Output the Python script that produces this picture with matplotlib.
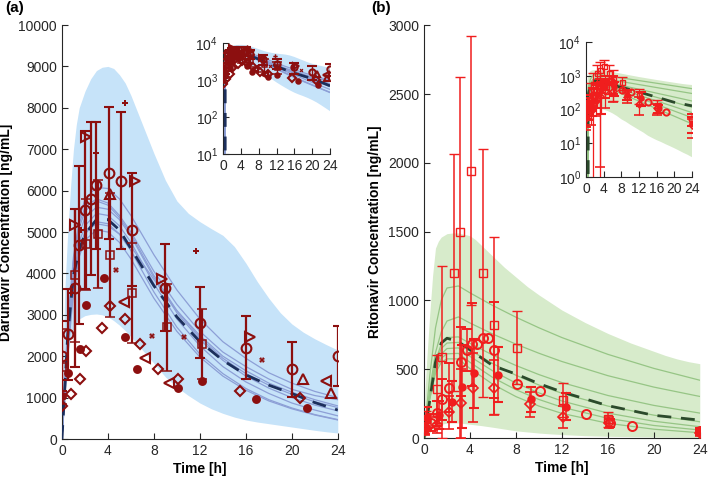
"""
Darunavir / ritonavir concentration-time profiles, observed vs model
"""

import numpy as np
import matplotlib
matplotlib.use("Agg")
import matplotlib.pyplot as plt

plt.rcParams['font.family'] = ['Liberation Sans', 'DejaVu Sans']

# ---------------- panel (a): darunavir ----------------
band_t = [0, 0.1, 0.25, 0.5, 0.75, 1, 1.25, 1.5, 2, 2.5, 3, 3.5, 4, 4.5, 5, 5.5, 6, 7, 8, 9,
          10, 11, 12, 13, 14, 15, 16, 17, 18, 19, 20, 21, 22, 23, 24]
drv_upper = [0, 2100, 3600, 5000, 6100, 7000, 7600, 8000, 8400, 8700, 8900, 8980, 9000, 8950,
             8800, 8600, 8300, 7600, 6900, 6250, 5750, 5450, 5250, 5080, 4920, 4650, 4250,
             3800, 3400, 3050, 2780, 2580, 2420, 2280, 2150]
drv_lower = [0, 800, 1330, 2050, 2450, 2650, 2800, 2900, 2980, 3010, 3020, 3000, 2950, 2860,
             2750, 2620, 2470, 2150, 1830, 1500, 1250, 1050, 870, 730, 620, 530, 460, 410,
             370, 330, 290, 250, 210, 175, 145]

drv_model_t = [0, 0.5, 1, 1.5, 2, 3, 4, 5, 6, 8, 10, 12, 14, 16, 18, 20, 22, 24]
drv_typical = [0, 2500, 3950, 4570, 4950, 5300, 5300, 5050, 4600, 3700, 2950, 2350, 1900,
               1550, 1300, 1100, 880, 700]
drv_ind_1 = [0, 2600, 4300, 5300, 5800, 6080, 6050, 5800, 5400, 4450, 3600, 2900, 2350, 1950, 1600, 1350, 1150, 1000]
drv_ind_2 = [0, 2800, 4400, 5200, 5600, 5800, 5700, 5400, 5000, 4050, 3250, 2600, 2100, 1750, 1450, 1200, 1050, 950]
drv_ind_3 = [0, 2500, 4100, 4950, 5350, 5600, 5550, 5300, 4900, 3900, 3050, 2400, 1900, 1520, 1230, 1000, 820, 680]
drv_ind_4 = [0, 2300, 3900, 4750, 5150, 5450, 5400, 5150, 4750, 3750, 2900, 2250, 1750, 1380, 1100, 870, 700, 560]
drv_ind_5 = [0, 2100, 3700, 4550, 4950, 5250, 5200, 4950, 4550, 3550, 2700, 2050, 1580, 1220, 950, 750, 590, 470]
drv_ind_6 = [0, 2000, 3550, 4400, 4800, 5050, 5000, 4750, 4350, 3400, 2600, 1980, 1520, 1180, 920, 730, 580, 460]
drv_ind_7 = [0, 2200, 3800, 4600, 5000, 5200, 5150, 4950, 4650, 3850, 3100, 2500, 2000, 1650, 1350, 1130, 950, 800]
drv_ind_8 = [0, 2700, 4250, 5100, 5500, 5750, 5650, 5350, 4950, 3950, 3100, 2450, 1950, 1580, 1300, 1080, 900, 760]

# observed darunavir, one list per study
drv_circ_t = [0, 0.55, 1.1, 1.5, 2.0, 2.5, 3.0, 4.1, 5.1, 6.1, 9.0, 12.0, 16.0, 20.0, 24.0]
drv_circ_c = [2000, 2530, 3650, 4690, 5530, 5800, 6130, 6420, 6240, 5060, 3650, 2810, 2210, 1680, 2000]
drv_circ_sd = [850, 1100, 1900, 1900, 1900, 1850, 1530, 1600, 1650, 1360, 1050, 850, 770, 670, 730]

drv_sq_t = [0, 1.1, 2.1, 3.1, 4.2, 6.1, 9.1, 12.2]
drv_sq_c = [1750, 3950, 4700, 4950, 4450, 3530, 2700, 2300]
drv_sq_sd = [900, 1600, 1100, 1300, 1500, 1200, 1050, 850]

drv_right_t = [1.1, 2.1, 6.35, 8.7, 16.4]
drv_right_c = [5170, 7290, 6240, 3870, 2470]
drv_left_t = [5.4, 7.2, 9.35, 23.0]
drv_left_c = [3320, 1960, 1360, 1390]
drv_up_t = [4.17, 21.0, 23.4]
drv_up_c = [5920, 1460, 1120]
drv_dia_t = [0.03, 0.78, 1.57, 2.09, 3.45, 4.17, 5.48, 6.78, 8.32, 10.1, 15.5, 20.75]
drv_dia_c = [800, 1080, 1460, 2130, 2670, 3210, 2900, 2290, 1680, 1440, 1160, 1000]
drv_dot_t = [0.03, 0.55, 1.57, 2.09, 3.68, 5.48, 6.49, 10.1, 12.2, 16.9, 21.3]
drv_dot_c = [1050, 1590, 2170, 3240, 3880, 2470, 1680, 1240, 1400, 970, 740]
drv_plus_t = [0.78, 1.65, 2.93, 5.48, 11.7]
drv_plus_c = [3520, 5050, 6920, 8110, 4550]
drv_x_t = [4.67, 7.8, 10.6, 17.4]
drv_x_c = [4080, 2490, 2470, 1910]

# ---------------- panel (b): ritonavir ----------------
rtv_upper = [0, 350, 580, 900, 1180, 1380, 1430, 1460, 1485, 1490, 1490, 1480, 1470, 1440,
             1400, 1360, 1320, 1240, 1170, 1100, 1040, 985, 930, 885, 840, 800, 760, 725,
             690, 660, 630, 600, 575, 555, 540]
rtv_lower = [0, 8, 20, 40, 60, 80, 90, 100, 108, 110, 110, 105, 100, 95, 90, 84, 78, 65, 52,
             44, 36, 30, 25, 21, 17, 14.5, 12.5, 11, 9.5, 8.3, 7.2, 6.2, 5.3, 4.6, 3.9]

rtv_model_t = [0, 0.5, 1, 1.5, 2, 3, 4, 6, 8, 10, 12, 16, 20, 24]
rtv_typical = [0, 270, 550, 690, 725, 700, 640, 525, 465, 395, 335, 235, 165, 130]
rtv_ind_1 = [0, 450, 800, 1000, 1090, 1105, 1055, 962, 878, 801, 730, 608, 506, 420]
rtv_ind_2 = [0, 350, 620, 770, 850, 880, 836, 755, 682, 616, 556, 453, 370, 302]
rtv_ind_3 = [0, 330, 560, 680, 730, 735, 688, 602, 527, 461, 403, 309, 237, 181]
rtv_ind_4 = [0, 320, 540, 650, 690, 695, 639, 540, 456, 385, 325, 232, 166, 118]
rtv_ind_5 = [0, 300, 510, 610, 650, 655, 593, 487, 399, 328, 269, 181, 122, 82]
rtv_ind_6 = [0, 290, 490, 580, 612, 615, 550, 439, 351, 280, 224, 143, 91, 58]
rtv_ind_7 = [0, 280, 470, 550, 575, 575, 505, 390, 301, 232, 179, 107, 64, 38]

rtv_sq_t = [0.2, 1.1, 1.6, 2.6, 3.1, 4.1, 5.1, 6.1, 8.1, 12.1, 16.0]
rtv_sq_c = [135, 356, 591, 1201, 1494, 1940, 1201, 818, 656, 276, 136]
rtv_sq_lo = [80, 250, 591, 860, 1494, 975, 900, 640, 266, 126, 55]
rtv_sq_hi = [60, 250, 660, 860, 1130, 980, 900, 640, 266, 126, 55]

rtv_circ_t = [0.1, 0.6, 1.1, 1.6, 2.2, 3.2, 3.7, 4.2, 4.6, 5.1, 5.6, 6.1, 8.1, 10.1, 14.1, 16.2, 18.1, 24.0]
rtv_circ_c = [70, 111, 179, 281, 366, 554, 639, 680, 680, 729, 729, 639, 392, 341, 172, 111, 87, 53]
rtv_circ_sd = [40, 60, 90, 150, 180, 250, 150, 300, np.nan, np.nan, np.nan, 350, np.nan, np.nan,
               np.nan, 30, np.nan, 20]

rtv_dia_t = [0.1, 1.1, 2.2, 3.2, 4.3, 6.1, 9.2, 12.1, 16.1, 24.0]
rtv_dia_c = [55, 94, 187, 252, 366, 366, 245, 150, 111, 34]
rtv_dia_sd = [30, 60, 120, 250, 250, 200, 90, 80, 40, 20]

rtv_dot_t = [0.25, 1.3, 2.4, 3.3, 4.35, 6.4, 9.35, 12.35, 24.0]
rtv_dot_c = [143, 167, 264, 373, 470, 458, 281, 228, 40]
rtv_dot_sd = [80, 100, 150, 300, 250, 200, 90, 100, 20]

DARK_RED = '#8c0f0f'
RED = '#f01e1e'


def style_axis(ax, labelsize=10):
    """matlab-ish look: left/bottom spines, ticks pointing in"""
    for side in ['top', 'right']:
        ax.spines[side].set_visible(False)
    for side in ['left', 'bottom']:
        ax.spines[side].set_color('#262626')
        ax.spines[side].set_linewidth(0.8)
    ax.tick_params(direction='in', length=4, width=0.8, labelsize=labelsize, colors='#262626')
    ax.tick_params(which='minor', left=False, bottom=False)


def points(ax, t, c, marker, color, ms, err=None, filled=False, mew=1.5, elw=1.5, capcolor=None):
    face = color if filled else 'none'
    line, caps, bars = ax.errorbar(t, c, yerr=err, fmt=marker, color=color, ecolor=color,
                                   mfc=face, mec=color, ms=ms, mew=mew, elinewidth=elw,
                                   capsize=3.5, capthick=0.7, zorder=5)
    if capcolor is not None:
        for cap in caps:
            cap.set_color(capcolor)


def draw_darunavir(ax, small=False):
    ms = 4.5 if small else 7
    elw = 1.0 if small else 1.6
    cap = '#a08a8a'
    ax.fill_between(band_t, drv_lower, drv_upper, color='#c6e3f9', lw=0, zorder=1)
    for curve in [drv_ind_1, drv_ind_2, drv_ind_3, drv_ind_4, drv_ind_5, drv_ind_6, drv_ind_7, drv_ind_8]:
        ax.plot(drv_model_t, curve, color='#8d9fd6', lw=0.9, zorder=2)
    ax.plot(drv_model_t, drv_typical, color='#1c2f5c', lw=2, dashes=(5, 3.5), zorder=3)

    points(ax, drv_circ_t, drv_circ_c, 'o', DARK_RED, ms, err=drv_circ_sd, elw=elw, capcolor=cap)
    points(ax, drv_sq_t, drv_sq_c, 's', DARK_RED, ms * 0.8, err=drv_sq_sd, mew=1.1, elw=elw, capcolor=cap)
    points(ax, drv_right_t, drv_right_c, '>', DARK_RED, ms)
    points(ax, drv_left_t, drv_left_c, '<', DARK_RED, ms)
    points(ax, drv_up_t, drv_up_c, '^', DARK_RED, ms)
    points(ax, drv_dia_t, drv_dia_c, 'D', DARK_RED, ms * 0.8)
    points(ax, drv_dot_t, drv_dot_c, 'o', DARK_RED, ms * 0.7, filled=True)
    points(ax, drv_plus_t, drv_plus_c, 'P', DARK_RED, ms * 0.7, filled=True, mew=0)
    points(ax, drv_x_t, drv_x_c, 'X', DARK_RED, ms * 0.6, filled=True, mew=0)


def draw_ritonavir(ax, small=False):
    ms = 4.5 if small else 6.5
    elw = 0.9 if small else 1.1
    cap = '#f4a0a0'
    ax.fill_between(band_t, rtv_lower, rtv_upper, color='#d7ebcb', lw=0, zorder=1)
    for curve in [rtv_ind_1, rtv_ind_2, rtv_ind_3, rtv_ind_4, rtv_ind_5, rtv_ind_6, rtv_ind_7]:
        ax.plot(rtv_model_t, curve, color='#96c585', lw=0.9, zorder=2)
    ax.plot(rtv_model_t, rtv_typical, color='#2b4a2b', lw=2, dashes=(5, 3.5), zorder=3)

    points(ax, rtv_sq_t, rtv_sq_c, 's', RED, ms * 0.8, err=[rtv_sq_lo, rtv_sq_hi], mew=1.0, elw=elw, capcolor=cap)
    points(ax, rtv_circ_t, rtv_circ_c, 'o', RED, ms, err=rtv_circ_sd, mew=1.4, elw=elw, capcolor=cap)
    points(ax, rtv_dia_t, rtv_dia_c, 'D', RED, ms * 0.75, err=rtv_dia_sd, mew=1.2, elw=elw, capcolor=cap)
    points(ax, rtv_dot_t, rtv_dot_c, 'o', RED, ms * 0.7, err=rtv_dot_sd, filled=True, elw=elw, capcolor=cap)


fig = plt.figure(figsize=(7.09, 4.8), dpi=100)

# main panel (a)
ax_a = fig.add_axes([0.0874, 0.0854, 0.389, 0.8625])
draw_darunavir(ax_a)
ax_a.set_xlim(0, 24)
ax_a.set_ylim(0, 10000)
ax_a.set_xticks(range(0, 25, 4))
ax_a.set_yticks(range(0, 10001, 1000))
style_axis(ax_a)
ax_a.set_xlabel("Time [h]", fontweight='bold', fontsize=10, labelpad=3)
ax_a.set_ylabel("Darunavir Concentration [ng/mL]", fontweight='bold', fontsize=10, labelpad=4)

# inset (a)
ins_a = fig.add_axes([0.3145, 0.679, 0.151, 0.231])
ins_a.set_facecolor('white')
draw_darunavir(ins_a, small=True)
ins_a.set_yscale('log')
ins_a.set_xlim(0, 24)
ins_a.set_ylim(10, 1e4)
ins_a.set_xticks(range(0, 25, 4))
ins_a.set_yticks([10, 100, 1000, 10000])
style_axis(ins_a)

# main panel (b)
ax_b = fig.add_axes([0.598, 0.0875, 0.389, 0.860])
draw_ritonavir(ax_b)
ax_b.set_xlim(0, 24)
ax_b.set_ylim(0, 3000)
ax_b.set_xticks(range(0, 25, 4))
ax_b.set_yticks(range(0, 3001, 500))
style_axis(ax_b)
ax_b.set_xlabel("Time [h]", fontweight='bold', fontsize=10, labelpad=3)
ax_b.set_ylabel("Ritonavir Concentration [ng/mL]", fontweight='bold', fontsize=10, labelpad=4)

# inset (b)
ins_b = fig.add_axes([0.8265, 0.631, 0.1495, 0.281])
ins_b.set_facecolor('white')
draw_ritonavir(ins_b, small=True)
ins_b.set_yscale('log')
ins_b.set_xlim(0, 24)
ins_b.set_ylim(1, 1e4)
ins_b.set_xticks(range(0, 25, 4))
ins_b.set_yticks([1, 10, 100, 1000, 10000])
style_axis(ins_b)

fig.text(0.008, 0.997, "(a)", fontweight='bold', fontsize=11, va='top')
fig.text(0.523, 0.997, "(b)", fontweight='bold', fontsize=11, va='top')

fig.savefig("out.png", dpi=100)
